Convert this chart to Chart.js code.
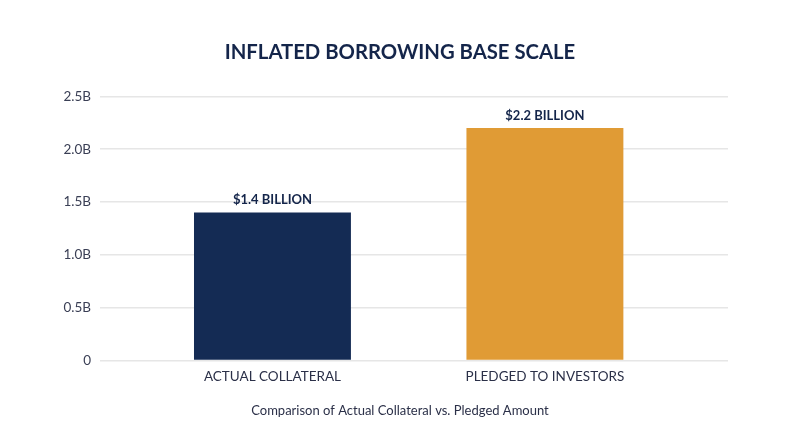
<!DOCTYPE html>
<html>
<head>
<meta charset="utf-8">
<script src="https://cdn.jsdelivr.net/npm/chart.js@4.4.1/dist/chart.umd.min.js"></script>
<style>
  html, body { margin: 0; padding: 0; background: #ffffff; }
  #wrap { width: 800px; height: 447px; position: relative; }
</style>
</head>
<body>
<div id="wrap"><canvas id="chart"></canvas></div>
<script>
/* --------------- Data --------------------- */
var categories = ["ACTUAL COLLATERAL", "PLEDGED TO INVESTORS"];
var values = [1.4, 2.2]; // billions
var valueLabels = ["$1.4 BILLION", "$2.2 BILLION"];
var barColors = ["#142b54", "#e09b35"];
var yTicks = [0, 0.5, 1.0, 1.5, 2.0, 2.5];

var FONT = "Lato, 'Open Sans', sans-serif";
var NAVY = "#14254a";

/* --------------- Labels above the bars --------------------- */
var barLabels = {
  id: "barLabels",
  afterDatasetsDraw(chart) {
    var ctx = chart.ctx;
    var meta = chart.getDatasetMeta(0);
    ctx.save();
    ctx.font = "bold 13px " + FONT;
    ctx.fillStyle = NAVY;
    ctx.textAlign = "center";
    ctx.textBaseline = "bottom";
    meta.data.forEach(function (bar, i) {
      ctx.fillText(valueLabels[i], bar.x, bar.y - 6);
    });
    ctx.restore();
  }
};

new Chart(document.getElementById("chart"), {
  type: "bar",
  plugins: [barLabels],
  data: {
    datasets: [{
      data: values.map(function (v, i) { return { x: i + 1, y: v }; }),
      backgroundColor: barColors,
      barPercentage: 0.72,
      categoryPercentage: 0.8
    }]
  },
  options: {
    responsive: true,
    maintainAspectRatio: false,
    animation: false,
    layout: { padding: { left: 44, right: 44, top: 0, bottom: 28 } },
    plugins: {
      legend: { display: false },
      tooltip: { enabled: false },
      title: {
        display: true,
        text: "INFLATED BORROWING BASE SCALE",
        color: NAVY,
        font: { family: FONT, size: 20.3, weight: "bold" },
        padding: { top: 40, bottom: 32 }
      },
      subtitle: {
        display: true,
        position: "bottom",
        text: "Comparison of Actual Collateral vs. Pledged Amount",
        color: "#2b3048",
        font: { family: FONT, size: 13 },
        padding: { top: 15, bottom: 0 }
      }
    },
    scales: {
      x: {
        type: "linear",
        offset: false,
        min: 0.367,
        max: 2.672,
        afterBuildTicks: function (axis) {
          axis.ticks = categories.map(function (c, i) { return { value: i + 1 }; });
        },
        afterFit: function (axis) { axis.height = 28; },
        grid: { display: false },
        border: { display: false },
        ticks: {
          callback: function (v) { return categories[v - 1] || ""; },
          color: "#2b3048",
          font: { family: FONT, size: 13.5 },
          padding: 0,
          maxRotation: 0
        }
      },
      y: {
        min: 0,
        max: 2.5,
        afterBuildTicks: function (axis) {
          axis.ticks = yTicks.map(function (v) { return { value: v }; });
        },
        afterFit: function (axis) { axis.width = 56; },
        grid: { color: "#e6e6e6", lineWidth: 1.5, drawTicks: false },
        border: { display: false },
        ticks: {
          callback: function (v) { return v === 0 ? "0" : v.toFixed(1) + "B"; },
          color: "#3a3f55",
          font: { family: FONT, size: 13.5 },
          padding: 9
        }
      },
      // empty right-hand axis, keeps the plot symmetric to the centred titles
      yRight: {
        position: "right",
        min: 0,
        max: 2.5,
        afterFit: function (axis) { axis.width = 28; },
        grid: { display: false },
        border: { display: false },
        ticks: { display: false }
      }
    }
  }
});
</script>
</body>
</html>
